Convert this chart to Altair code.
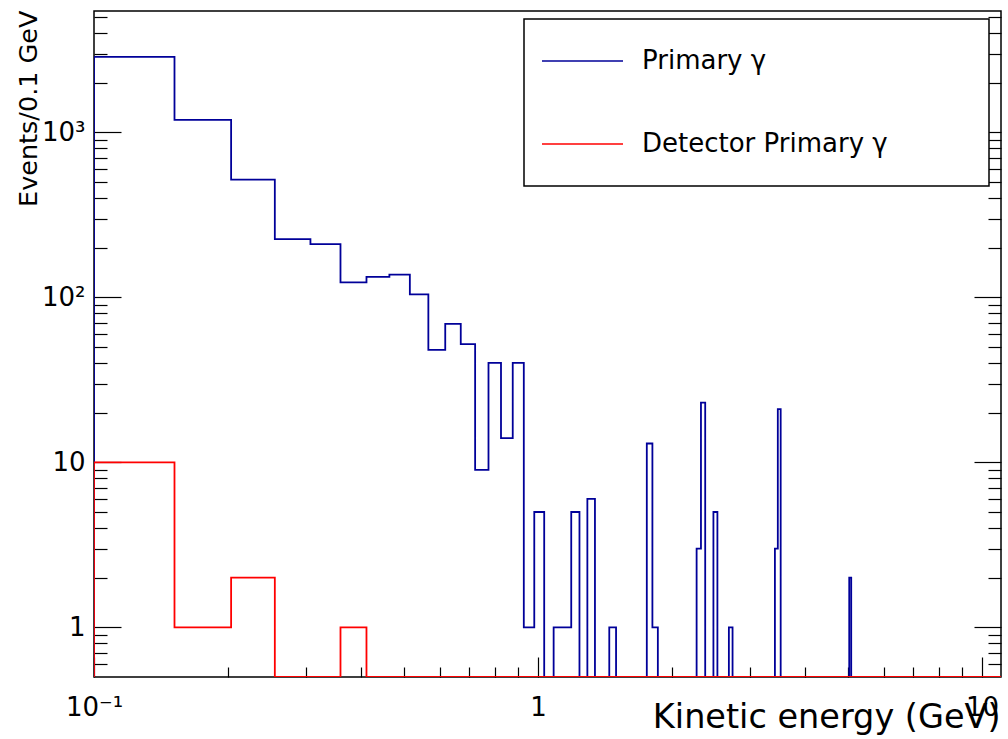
import altair as alt
import pandas as pd

# Histogram binning (GeV)
BIN_START = 0.1
BIN_WIDTH = 0.0518
N_BINS = 211

# Counts per bin, starting at BIN_START; bins not listed are empty
primary_counts = [
    2860, 1188, 516, 225, 210, 123, 133, 137, 104, 48,
    69, 52, 9, 40, 14, 40, 1, 5, 0, 1,
    1, 5, 0, 6, 0, 0, 1, 0, 0, 0,
    0, 0, 13, 1, 0, 0, 0, 0, 0, 0,
    0, 0, 3, 23, 0, 0, 5, 0, 0, 0,
    1, 0, 0, 0, 0, 0, 0, 0, 0, 0,
    0, 0, 0, 0, 3, 21, 0, 0, 0, 0,
    0, 0, 0, 0, 0, 0, 0, 0, 0, 0,
    0, 0, 0, 0, 0, 0, 0, 0, 0, 0,
    0, 0, 0, 0, 0, 2,
]
detector_counts = [10, 1, 2, 0, 0, 1]

# Axis ranges and tick positions
X_RANGE = [0.1, BIN_START + N_BINS * BIN_WIDTH]
Y_RANGE = [0.5, 5430]
x_major = [0.1, 1, 10]
x_minor = [0.2, 0.3, 0.4, 0.5, 0.6, 0.7, 0.8, 0.9, 2, 3, 4, 5, 6, 7, 8, 9]
y_major = [1, 10, 100, 1000]
y_minor = ([0.6, 0.7, 0.8, 0.9] + [m for m in range(2, 10)]
           + [m * 10 for m in range(2, 10)] + [m * 100 for m in range(2, 10)]
           + [2000, 3000, 4000, 5000])

FONT = "DejaVu Sans"
BLUE = "#000099"
RED = "#ff0000"


def step_table(counts):
    """Outline of a histogram: empty bins sit on the axis floor."""
    c = counts + [0] * (N_BINS - len(counts))
    edges = [BIN_START + i * BIN_WIDTH for i in range(N_BINS + 1)]
    rows = [(edges[0], Y_RANGE[0])]
    rows += [(edges[i], max(c[i], Y_RANGE[0])) for i in range(N_BINS)]
    rows.append((edges[-1], max(c[-1], Y_RANGE[0])))
    return pd.DataFrame({"i": range(len(rows)),
                         "E": [r[0] for r in rows],
                         "N": [r[1] for r in rows]})


xs = alt.Scale(type="log", domain=X_RANGE, nice=False, zero=False)
ys = alt.Scale(type="log", domain=Y_RANGE, nice=False, zero=False)


def hist_layer(counts, color):
    return alt.Chart(step_table(counts)).mark_line(
        interpolate="step-after", color=color, strokeWidth=1.8, clip=True
    ).encode(
        x=alt.X("E:Q", scale=xs, axis=None),
        y=alt.Y("N:Q", scale=ys, axis=None),
        order="i:Q",
    )


anchor = pd.DataFrame({"E": [1.0], "N": [1.0]})


def axis_layer(xaxis=None, yaxis=None):
    return alt.Chart(anchor).mark_point(opacity=0).encode(
        x=alt.X("E:Q", scale=xs, axis=xaxis),
        y=alt.Y("N:Q", scale=ys, axis=yaxis),
    )


def tick_axis(orient, values, length):
    return alt.Axis(orient=orient, values=values, offset=-length, tickSize=length,
                    labels=False, domain=False, grid=False, title=None,
                    tickColor="black", tickWidth=1.2)


y_labels = alt.Axis(
    orient="left", values=y_major, ticks=False, tickSize=0, domain=False, grid=False,
    labelExpr="datum.value > 500 ? '10³' : datum.value > 50 ? '10²' : datum.value > 5 ? '10' : '1'",
    labelFont=FONT, labelFontSize=26, labelColor="black", labelPadding=9,
    labelOverlap=False, labelFlush=False,
    title="Events/0.1 GeV", titleFont=FONT, titleFontSize=25.5, titleFontWeight="normal",
    titleColor="black", titleAngle=270, titleAlign="right", titleBaseline="alphabetic",
    titleX=-58, titleY=-1,
)
x_labels = alt.Axis(
    orient="bottom", values=x_major, ticks=False, tickSize=0, domain=False, grid=False,
    labelExpr="datum.value < 0.5 ? '10⁻¹' : datum.value < 5 ? '1' : '10'",
    labelFont=FONT, labelFontSize=26, labelColor="black", labelPadding=17,
    labelBaseline="top", labelOverlap=False, labelFlush=False,
    title="Kinetic energy (GeV)", titleFont=FONT, titleFontSize=33.5, titleFontWeight="normal",
    titleColor="black", titleAlign="right", titleBaseline="alphabetic",
    titleX=906, titleY=50,
)

axes = [
    axis_layer(xaxis=x_labels, yaxis=y_labels),
    axis_layer(yaxis=tick_axis("left", y_major, 27)),
    axis_layer(yaxis=tick_axis("left", y_minor, 13)),
    axis_layer(yaxis=tick_axis("right", y_major, 27)),
    axis_layer(yaxis=tick_axis("right", y_minor, 13)),
    axis_layer(xaxis=tick_axis("bottom", x_major, 20)),
    axis_layer(xaxis=tick_axis("bottom", x_minor, 10)),
]

# Legend box in the upper right of the frame
one = alt.Data(values=[{}])
legend_box = alt.Chart(one).mark_rect(fill="white", stroke="black", strokeWidth=1.5).encode(
    x=alt.value(430), x2=alt.value(895), y=alt.value(8), y2=alt.value(175))
legend_entries = []
for label, color, ly in [("Primary γ", BLUE, 50), ("Detector Primary γ", RED, 133)]:
    legend_entries.append(alt.Chart(one).mark_rule(color=color, strokeWidth=1.5).encode(
        x=alt.value(448), x2=alt.value(529), y=alt.value(ly)))
    legend_entries.append(alt.Chart(one).mark_text(
        text=label, font=FONT, fontSize=26, color="black", align="left",
        baseline="alphabetic").encode(x=alt.value(548), y=alt.value(ly + 8)))

chart = alt.layer(
    *axes,
    hist_layer(primary_counts, BLUE),
    hist_layer(detector_counts, RED),
    legend_box,
    *legend_entries,
).resolve_axis(
    x="independent", y="independent"
).properties(
    width=907, height=666,
    autosize=alt.AutoSizeParams(type="none"),
    padding={"left": 94, "top": 11, "right": 7, "bottom": 62},
    background="white",
).configure_view(
    stroke="black", strokeWidth=1.5
)

chart.save("out.html", embed_options={"renderer": "svg", "actions": False})
